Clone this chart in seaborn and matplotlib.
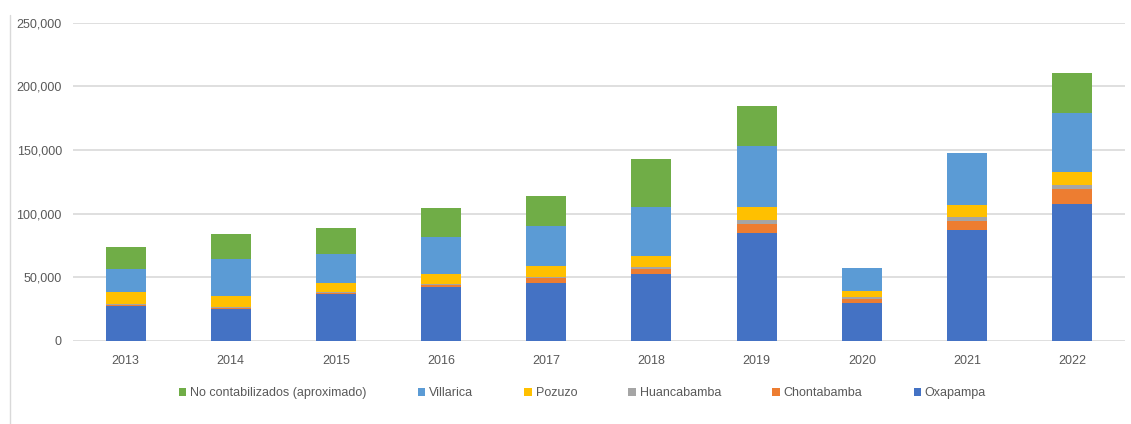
import numpy as np
import pandas as pd
import matplotlib
matplotlib.use("Agg")
import matplotlib.pyplot as plt
import seaborn as sns
from matplotlib.patches import Patch
from matplotlib.lines import Line2D
from matplotlib.ticker import FuncFormatter

# Data
years = ["2013", "2014", "2015", "2016", "2017", "2018", "2019", "2020", "2021", "2022"]
oxapampa = [27500, 24900, 37200, 42700, 45600, 52900, 85100, 29900, 87500, 107900]
chontabamba = [500, 800, 800, 1300, 3700, 3900, 7100, 3100, 6800, 11800]
huancabamba = [700, 1000, 800, 1000, 1200, 1600, 2900, 1300, 3200, 2900]
pozuzo = [9800, 8700, 6800, 7700, 8500, 8600, 10500, 5000, 9400, 10500]
villarica = [17800, 28800, 22800, 28800, 31100, 38600, 47900, 18300, 41100, 45800]
no_contab = [17700, 19700, 20400, 22800, 24100, 37400, 31500, 0, 0, 32000]

series = ["Oxapampa", "Chontabamba", "Huancabamba", "Pozuzo", "Villarica",
          "No contabilizados (aproximado)"]
colors = ["#4472C4", "#ED7D31", "#A5A5A5", "#FFC000", "#5B9BD5", "#70AD47"]

df = pd.DataFrame({
    "Year": years,
    "Oxapampa": oxapampa,
    "Chontabamba": chontabamba,
    "Huancabamba": huancabamba,
    "Pozuzo": pozuzo,
    "Villarica": villarica,
    "No contabilizados (aproximado)": no_contab,
})

sns.set_style("white")
plt.rcParams["font.family"] = ["Liberation Sans Narrow", "Liberation Sans", "DejaVu Sans"]

fig = plt.figure(figsize=(11.31, 4.24), dpi=100)
ax = fig.add_axes([0.0645, 0.196, 0.930, 0.750])

# stacked bars: draw cumulative totals from top series down
cum = df[series].cumsum(axis=1)
for name, col in reversed(list(zip(series, colors))):
    sns.barplot(x=df["Year"], y=cum[name], color=col, saturation=1,
                width=0.38, ax=ax, zorder=3, edgecolor="none")

ax.set_ylim(0, 250000)
ax.set_yticks(np.arange(0, 250001, 50000))
ax.yaxis.set_major_formatter(FuncFormatter(lambda v, p: f"{int(v):,}"))
ax.grid(axis="y", color="#D9D9D9", linewidth=1.2, zorder=0)
ax.set_axisbelow(True)
ax.set_xlabel("")
ax.set_ylabel("")
for s in ax.spines.values():
    s.set_visible(False)
ax.tick_params(axis="both", length=0, labelsize=9, labelcolor="#595959")
ax.tick_params(axis="x", pad=10)
ax.tick_params(axis="y", pad=8)

# legend
leg_order = ["No contabilizados (aproximado)", "Villarica", "Pozuzo",
             "Huancabamba", "Chontabamba", "Oxapampa"]
cmap = dict(zip(series, colors))
handles = [Patch(facecolor=cmap[n], edgecolor="none") for n in leg_order]
fig.legend(handles, leg_order, loc="center", bbox_to_anchor=(0.515, 0.073),
           ncol=6, frameon=False, fontsize=9, handlelength=0.6,
           handleheight=0.6, handletextpad=0.3, columnspacing=4.1,
           labelcolor="#595959")

# thin frame line on the left
fig.add_artist(Line2D([10 / 1131, 10 / 1131], [0, 1 - 15 / 424],
                      transform=fig.transFigure, color="#D9D9D9", linewidth=1))

fig.savefig("out.png", dpi=100)
